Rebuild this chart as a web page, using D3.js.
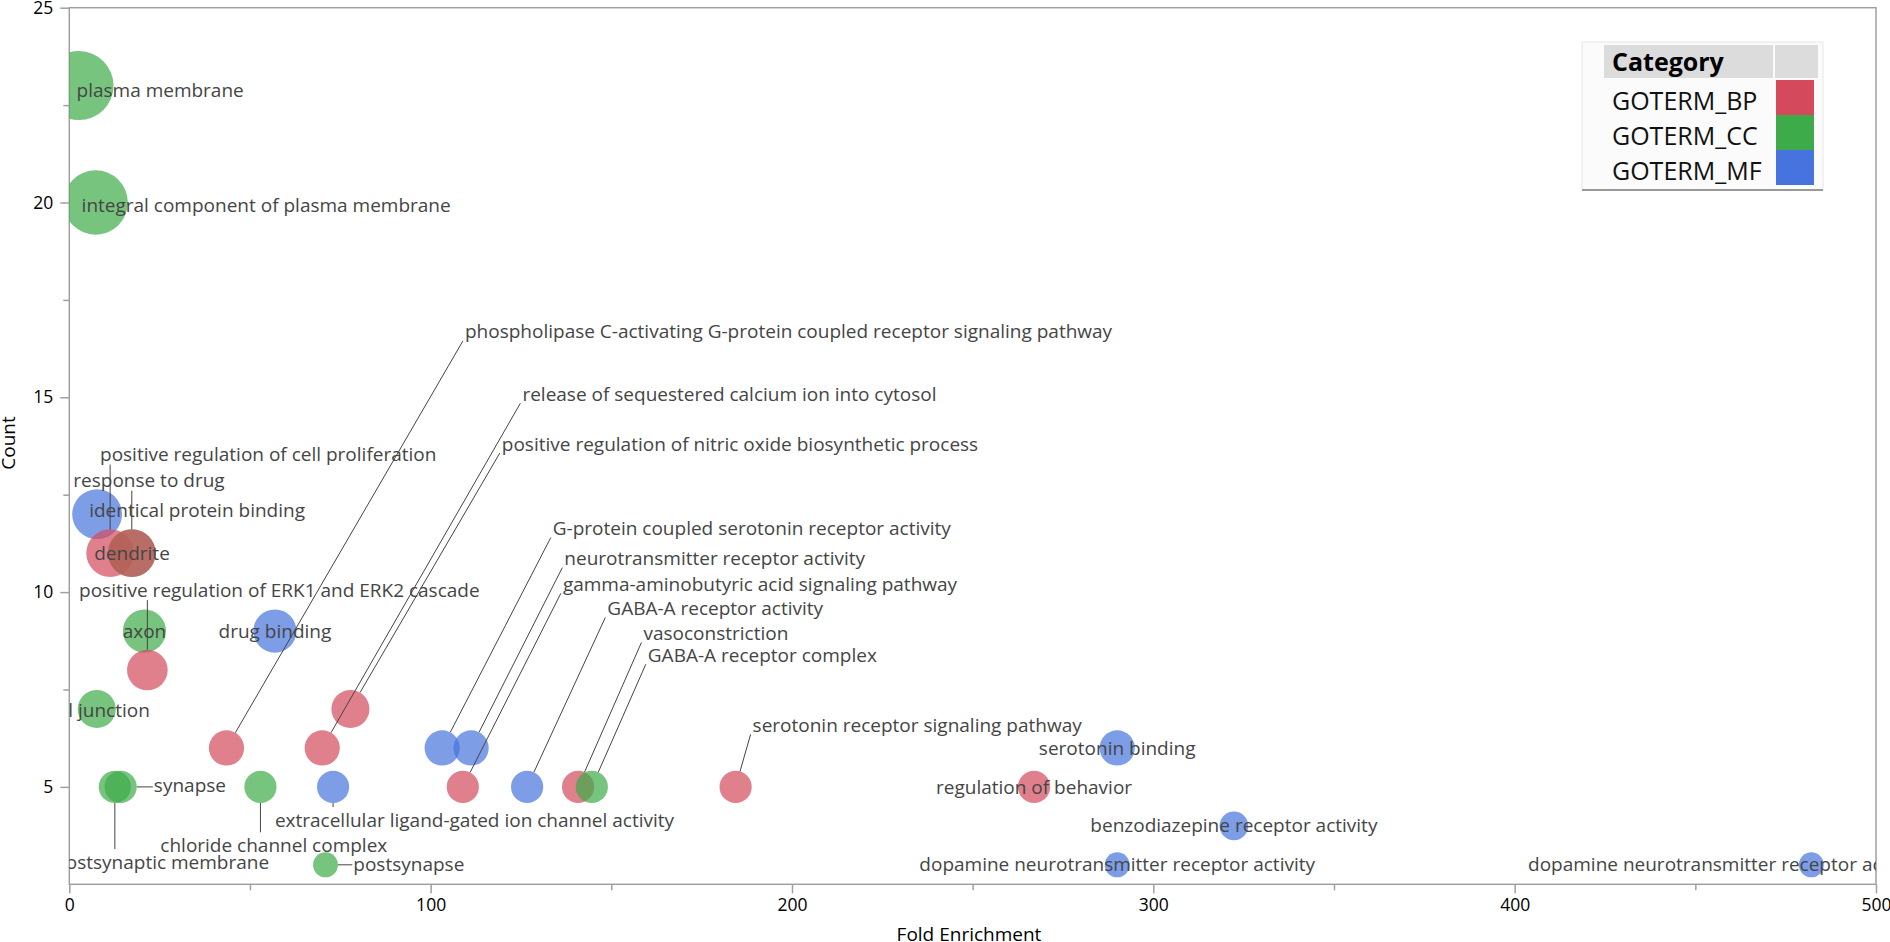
<!DOCTYPE html>
<html lang="en">
<head>
  <title>GO enrichment bubble chart</title>
  <script src="https://d3js.org/d3.v7.min.js"></script>
  <style>
    body { margin: 0; background: #fff; }
    svg text { font-family: "Open Sans", "Noto Sans", sans-serif; }
  </style>
</head>
<body>
  <div id="my_dataviz"></div>
  <script>
    // GO terms
    var terms = [
      "plasma membrane", "integral component of plasma membrane", "identical protein binding",
      "positive regulation of cell proliferation", "dendrite", "response to drug", "axon",
      "positive regulation of ERK1 and ERK2 cascade", "drug binding", "cell junction",
      "postsynaptic membrane", "synapse", "chloride channel complex",
      "extracellular ligand-gated ion channel activity", "postsynapse",
      "phospholipase C-activating G-protein coupled receptor signaling pathway",
      "release of sequestered calcium ion into cytosol",
      "positive regulation of nitric oxide biosynthetic process",
      "G-protein coupled serotonin receptor activity", "neurotransmitter receptor activity",
      "gamma-aminobutyric acid signaling pathway", "GABA-A receptor activity",
      "vasoconstriction", "GABA-A receptor complex", "serotonin receptor signaling pathway",
      "serotonin binding", "regulation of behavior", "benzodiazepine receptor activity",
      "dopamine neurotransmitter receptor activity", "dopamine neurotransmitter receptor activity"
    ];
    var categories = [
      "GOTERM_CC", "GOTERM_CC", "GOTERM_MF", "GOTERM_BP", "GOTERM_CC", "GOTERM_BP", "GOTERM_CC",
      "GOTERM_BP", "GOTERM_MF", "GOTERM_CC", "GOTERM_CC", "GOTERM_CC", "GOTERM_CC",
      "GOTERM_MF", "GOTERM_CC", "GOTERM_BP", "GOTERM_BP", "GOTERM_BP", "GOTERM_MF", "GOTERM_MF",
      "GOTERM_BP", "GOTERM_MF", "GOTERM_BP", "GOTERM_CC", "GOTERM_BP",
      "GOTERM_MF", "GOTERM_BP", "GOTERM_MF", "GOTERM_MF", "GOTERM_MF"
    ];
    var foldEnrichment = [
      2.7, 7.3, 7.7, 11.3, 17.3, 17.3, 20.8, 21.6, 56.9, 7.6,
      12.6, 14.2, 52.9, 73.0, 70.9, 43.5, 70.0, 77.8, 103.2, 111.2,
      108.9, 126.7, 140.8, 144.6, 184.4, 290, 267, 322.3, 290, 482.1
    ];
    var counts = [
      23, 20, 12, 11, 11, 11, 9, 8, 9, 7,
      5, 5, 5, 5, 3, 6, 6, 7, 6, 6,
      5, 5, 5, 5, 5, 6, 5, 4, 3, 3
    ];
    var categoryNames = ["GOTERM_BP", "GOTERM_CC", "GOTERM_MF"];
    var categoryColors = ["#d44a5c", "#3dab49", "#4673dd"];
    var xTicks = [0, 100, 200, 300, 400, 500];
    var yTicks = [5, 10, 15, 20, 25];

    // label placement (in axis units) and leader style, as JMP laid them out
    var labelX = [
      2.0, 3.4, 5.5, 8.5, 6.9, 1.1, 20.8, 2.7, 56.9, 7.6,
      55.3, 23.4, 56.6, 56.9, 78.6, 109.5, 125.4, 119.7, 133.8, 137.0,
      136.6, 148.9, 158.9, 160.1, 189.1, 290, 267, 322.3, 290, 403.7
    ];
    var labelY = [
      22.89, 19.93, 12.1, 13.53, 10.99, 12.86, 9.0, 10.05, 9.0, 6.97,
      3.07, 5.04, 3.5, 4.15, 3.02, 16.68, 15.08, 13.8, 11.63, 10.86,
      10.2, 9.58, 8.94, 8.38, 6.58, 6.0, 5.0, 4.0, 3.0, 3.0
    ];
    var labelAnchor = [
      "start", "start", "start", "start", "start", "start", "middle", "start", "middle", "middle",
      "end", "start", "middle", "start", "start", "start", "start", "start", "start", "start",
      "start", "start", "start", "start", "start", "middle", "middle", "middle", "middle", "start"
    ];
    var leader = [
      "", "", "", "up", "", "up", "", "up", "", "",
      "down", "side", "down", "down", "side", "diag", "diag", "diag", "diag", "diag",
      "diag", "diag", "diag", "diag", "diag", "", "", "", "", ""
    ];

    var margin = {top: 7.7, right: 14, bottom: 57.7, left: 69.3},
        width = 1890 - margin.left - margin.right,
        height = 942 - margin.top - margin.bottom;

    var svg = d3.select("#my_dataviz")
      .append("svg")
        .attr("width", 1890)
        .attr("height", 942)
      .append("g")
        .attr("transform", `translate(${margin.left}, ${margin.top})`);

    var x = d3.scaleLinear().domain([0, 500]).range([0, width]);
    var y = d3.scaleLinear().domain([2.5, 25]).range([height, 0]);
    var r = d3.scaleSqrt().domain([0, 23]).range([0, 34.5]);
    var color = d3.scaleOrdinal().domain(categoryNames).range(categoryColors);

    // axes: major ticks with labels, minor ticks without
    svg.append("g").attr("transform", `translate(0, ${height})`)
      .call(d3.axisBottom(x).tickValues(xTicks).tickSize(9).tickSizeOuter(0).tickPadding(5));
    svg.append("g").attr("transform", `translate(0, ${height})`)
      .call(d3.axisBottom(x).tickValues([50, 150, 250, 350, 450]).tickSize(6).tickFormat(""));
    svg.append("g")
      .call(d3.axisLeft(y).tickValues(yTicks).tickSize(9).tickSizeOuter(0).tickPadding(7));
    svg.append("g")
      .call(d3.axisLeft(y).tickValues([7.5, 12.5, 17.5, 22.5]).tickSize(6).tickFormat(""));
    svg.selectAll(".domain").remove();
    svg.selectAll(".tick line").attr("stroke", "#a0a0a0").attr("stroke-width", 1.5);
    svg.selectAll(".tick text").attr("font-size", 17.5).attr("fill", "#000");

    svg.append("rect")
      .attr("width", width).attr("height", height)
      .attr("fill", "none").attr("stroke", "#a0a0a0").attr("stroke-width", 1.5);

    svg.append("text")
      .attr("text-anchor", "middle")
      .attr("x", 969 - margin.left)
      .attr("y", height + 57)
      .attr("font-size", 19)
      .text("Fold Enrichment");

    svg.append("text")
      .attr("text-anchor", "middle")
      .attr("transform", `translate(${15 - margin.left}, ${443 - margin.top}) rotate(-90)`)
      .attr("font-size", 19)
      .text("Count");

    svg.append("clipPath").attr("id", "plotclip")
      .append("rect").attr("width", width).attr("height", height);

    var plot = svg.append("g").attr("clip-path", "url(#plotclip)");

    var rows = terms.map(function(t, i) {
      return {term: t, cat: categories[i], fold: foldEnrichment[i], count: counts[i],
              lx: labelX[i], ly: labelY[i], anchor: labelAnchor[i], leader: leader[i]};
    });

    plot.selectAll("circle")
      .data(rows)
      .enter()
      .append("circle")
        .attr("cx", function(d) { return x(d.fold); })
        .attr("cy", function(d) { return y(d.count); })
        .attr("r", function(d) { return r(d.count); })
        .attr("fill", function(d) { return color(d.cat); })
        .attr("fill-opacity", 0.7);

    // leader lines from circle to label
    function leaderPath(d) {
      var cx = x(d.fold), cy = y(d.count), rr = r(d.count);
      var tx = x(d.lx), ty = y(d.ly);
      if (d.leader == "up") return [[cx, cy - rr], [cx, ty + 10]];
      if (d.leader == "down") return [[cx, cy + rr], [cx, ty - 13]];
      if (d.leader == "side") return [[cx + rr, cy], [tx - 1, cy]];
      var sx = tx - 2, sy = ty + 9;
      var dx = sx - cx, dy = sy - cy, len = Math.sqrt(dx * dx + dy * dy);
      return [[cx + dx / len * rr, cy + dy / len * rr], [sx, sy]];
    }

    plot.selectAll(".leader")
      .data(rows.filter(function(d) { return d.leader != ""; }))
      .enter()
      .append("path")
        .attr("class", "leader")
        .attr("d", function(d) { return d3.line()(leaderPath(d)); })
        .attr("stroke", "#444")
        .attr("stroke-width", 1)
        .attr("fill", "none");

    plot.selectAll(".label")
      .data(rows)
      .enter()
      .append("text")
        .attr("class", "label")
        .attr("x", function(d) { return x(d.lx); })
        .attr("y", function(d) { return y(d.ly); })
        .attr("dy", "0.35em")
        .attr("text-anchor", function(d) { return d.anchor; })
        .attr("font-size", 19)
        .attr("fill", "#454545")
        .text(function(d) { return d.term; });

    // legend box, top right
    var legend = d3.select("svg").append("g").attr("transform", "translate(1582, 42)");
    legend.append("rect").attr("width", 241).attr("height", 148)
      .attr("fill", "#fbfbfb").attr("stroke", "#e6e6e6");
    legend.append("line").attr("x1", 0).attr("x2", 241).attr("y1", 148).attr("y2", 148)
      .attr("stroke", "#9a9a9a").attr("stroke-width", 2);
    legend.append("rect").attr("x", 22).attr("y", 3).attr("width", 169).attr("height", 33).attr("fill", "#dcdcdc");
    legend.append("rect").attr("x", 193).attr("y", 3).attr("width", 43).attr("height", 33).attr("fill", "#dcdcdc");
    legend.append("text").attr("x", 30).attr("y", 20).attr("dy", "0.35em")
      .attr("font-size", 25).attr("font-weight", "bold").text("Category");

    var items = legend.selectAll(".item")
      .data(categoryNames)
      .enter()
      .append("g")
        .attr("class", "item")
        .attr("transform", function(d, i) { return `translate(0, ${38 + i * 35})`; });
    items.append("rect")
      .attr("x", 194).attr("width", 38).attr("height", 35)
      .attr("fill", function(d) { return color(d); });
    items.append("text")
      .attr("x", 30).attr("y", 21).attr("dy", "0.35em")
      .attr("font-size", 25).attr("fill", "#111")
      .text(function(d) { return d; });
  </script>
</body>
</html>
